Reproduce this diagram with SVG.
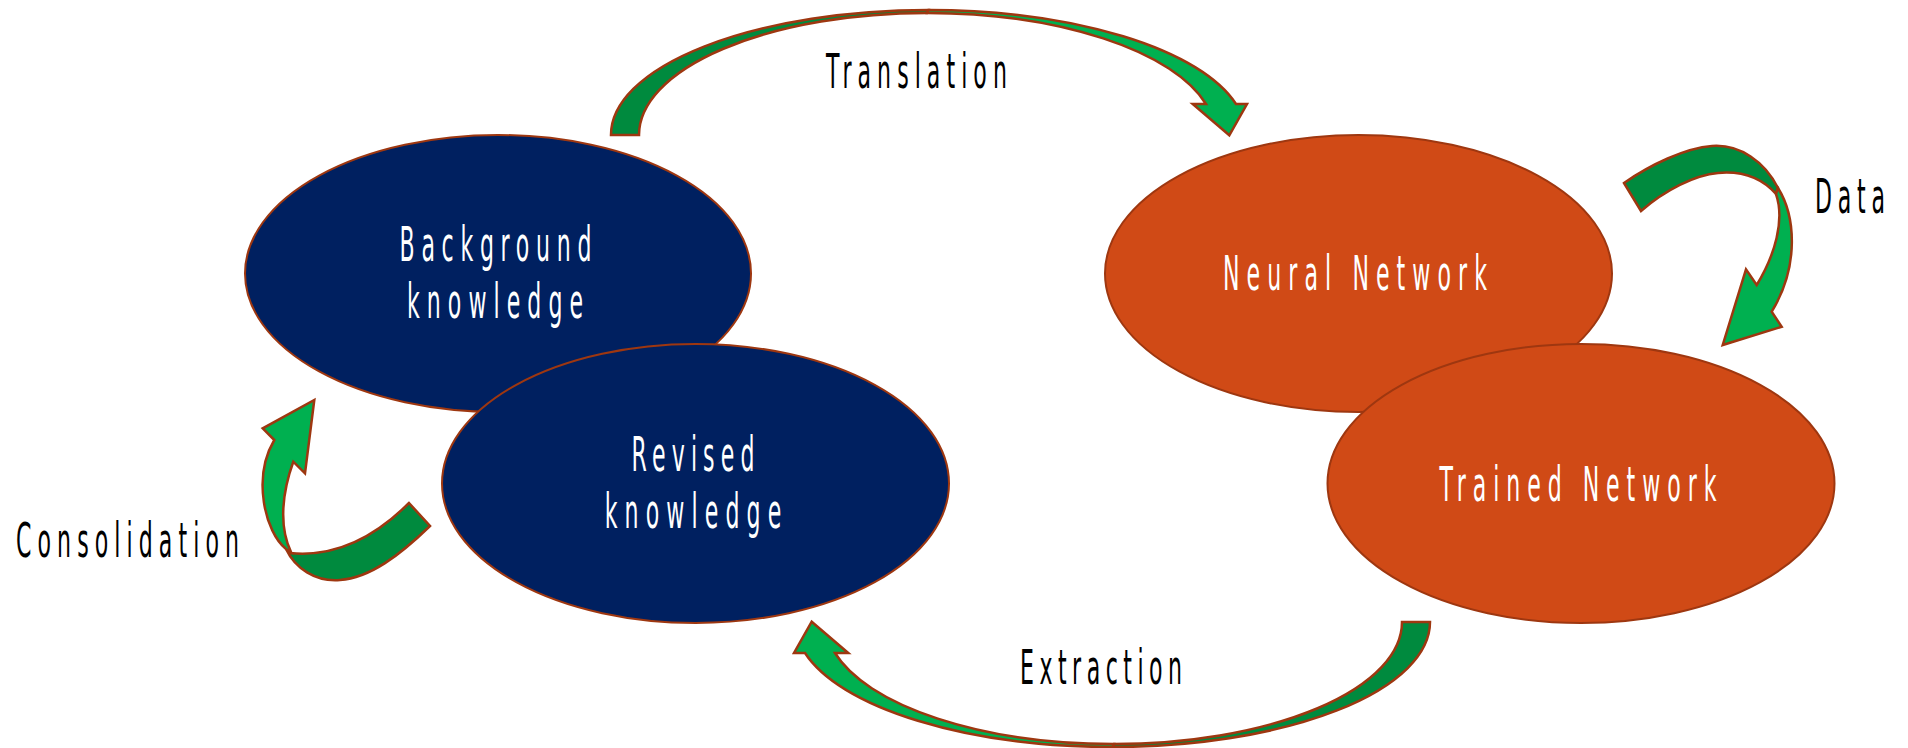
<svg xmlns="http://www.w3.org/2000/svg" width="1908" height="748" viewBox="0 0 1908 748">
  <style>
    .blue { fill: #002060; stroke: #9E3710; stroke-width: 2; }
    .orange { fill: #D04A16; stroke: #9E3710; stroke-width: 2; }
    .back { fill: #008A3E; stroke: #9E3710; stroke-width: 2.5; stroke-linejoin: miter; }
    .front { fill: #00B050; stroke: #9E3710; stroke-width: 2.5; stroke-linejoin: miter; }
    text { font-family: "DejaVu Sans", "Liberation Sans", sans-serif; font-size: 48px; text-anchor: middle; }
    .in { fill: #FFFFFF; }
    .lbl { fill: #000000; }
  </style>
  <defs>
    <!-- curved arrow: tail on the right, head pointing up on the left -->
    <g id="bigCurve">
      <path class="back" d="M1430,622 A317.5,125 0 0 1 1112.5,747 L1113.8,744 A288.2,122 0 0 0 1402,622 Z"/>
      <path class="front" d="M1112.5,747 A317.5,125 0 0 1 805,653 L794,653 L811.7,621.7 L848.3,653 L835,653 A288.2,122 0 0 0 1113.8,744 Z"/>
    </g>
  </defs>

  <g id="node-background">
    <ellipse class="blue" cx="498" cy="273.5" rx="253" ry="138.5"/>
    <text class="in" transform="translate(495.5,261) scale(0.46,1)" textLength="417" lengthAdjust="spacing">Background</text>
    <text class="in" transform="translate(495,318) scale(0.46,1)" textLength="383" lengthAdjust="spacing">knowledge</text>
  </g>
  <g id="node-revised">
    <ellipse class="blue" cx="695.5" cy="483.5" rx="253.5" ry="139.5"/>
    <text class="in" transform="translate(693,471) scale(0.46,1)" textLength="267" lengthAdjust="spacing">Revised</text>
    <text class="in" transform="translate(693,528) scale(0.46,1)" textLength="384" lengthAdjust="spacing">knowledge</text>
  </g>
  <g id="node-neural">
    <ellipse class="orange" cx="1358.5" cy="273.5" rx="253.5" ry="138.5"/>
    <text class="in" transform="translate(1355,290) scale(0.46,1)" textLength="574" lengthAdjust="spacing">Neural Network</text>
  </g>
  <g id="node-trained">
    <ellipse class="orange" cx="1581" cy="483.5" rx="253.5" ry="139.5"/>
    <text class="in" transform="translate(1578,501) scale(0.46,1)" textLength="602" lengthAdjust="spacing">Trained Network</text>
  </g>

  <g id="connectors">
    <!-- Translation: background knowledge to neural network -->
    <use href="#bigCurve" transform="rotate(180 1020.5 378.5)"/>
    <!-- Extraction: trained network to revised knowledge -->
    <use href="#bigCurve"/>
    <!-- Data loop on the right -->
    <path class="back" d="M1624,183 C1650,165 1685,148 1712,146 C1740,144 1765,162 1778,188 L1776,194 C1760,176 1740,171 1718,173 C1695,175 1665,190 1641,211 Z"/>
    <path class="front" d="M1778,188 C1795,215 1800,265 1771.7,311.7 L1781.7,326.7 L1722.7,345 L1746,269.3 L1756.7,285 C1775,255 1785,220 1776,194 Z"/>
    <!-- Consolidation loop on the left -->
    <path class="back" d="M409,503 C380,532 340,558 290,553 L286,549 C295,568 315,582 340,580 C370,578 400,555 430,526 Z"/>
    <path class="front" d="M286,549 C265,532 252,478 274.3,440 L262.7,428.3 L314.3,400 L305,473.3 L293.3,461.7 C283,490 278,525 291,552 Z"/>
  </g>

  <g id="labels">
    <text class="lbl" transform="translate(916.5,88) scale(0.46,1)" textLength="393" lengthAdjust="spacing">Translation</text>
    <text class="lbl" transform="translate(1850,213) scale(0.46,1)" textLength="152" lengthAdjust="spacing">Data</text>
    <text class="lbl" transform="translate(127.5,557) scale(0.46,1)" textLength="485" lengthAdjust="spacing">Consolidation</text>
    <text class="lbl" transform="translate(1101,684) scale(0.46,1)" textLength="352" lengthAdjust="spacing">Extraction</text>
  </g>
</svg>
